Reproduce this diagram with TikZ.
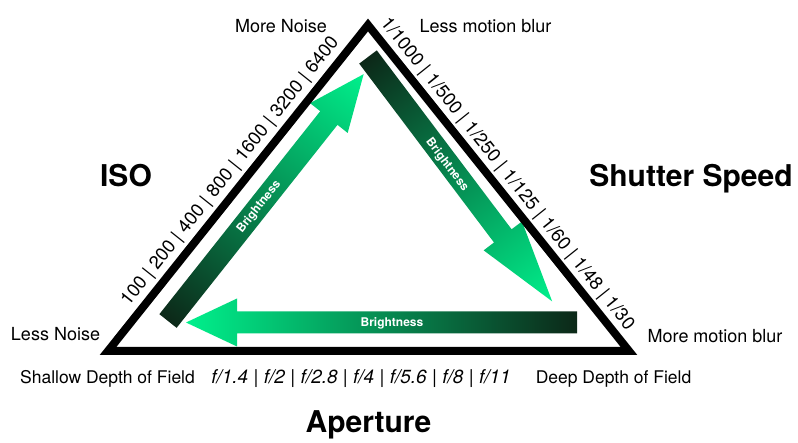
\documentclass[tikz,border=0pt]{standalone}
\usepackage{fontspec}
\setmainfont{TeX Gyre Heros}
\usetikzlibrary{calc}
\definecolor{arrowdark}{RGB}{12,40,24}
\definecolor{arrowbright}{RGB}{0,240,140}

\begin{document}
\begin{tikzpicture}[x=1pt, y=1pt]
      \tikzstyle{side} = [font=\fontsize{18}{21}\selectfont, anchor=base, inner sep=0pt]
      \tikzstyle{stops} = [font=\fontsize{18.5}{21}\selectfont, anchor=base, inner sep=0pt]
      \tikzstyle{title} = [font=\fontsize{30}{34}\selectfont\bfseries, anchor=base, inner sep=0pt]
      \tikzstyle{glow} = [left color=arrowdark, right color=arrowbright]
      \tikzstyle{brightlbl} = [text=white, font=\fontsize{12}{14}\selectfont\bfseries, inner sep=0pt]
      \useasboundingbox[fill=white] (0,0) rectangle (798,442);

      \coordinate (lc) at (108,91);
      \coordinate (rc) at (629,91);
      \coordinate (tc) at (368,417);

      % brightness arrows, tail dark, head bright
      \begin{scope}[transform canvas={shift={(168,121)}, rotate=51.6}]
        \shade[glow] (0,-11) -- (259,-11) -- (259,-24) -- (315,0) -- (259,24) -- (259,11) -- (0,11) -- cycle;
      \end{scope}
      \begin{scope}[transform canvas={shift={(368,385)}, rotate=-53}]
        \shade[glow] (0,-11) -- (224,-11) -- (224,-24) -- (306,0) -- (224,24) -- (224,11) -- (0,11) -- cycle;
      \end{scope}
      \begin{scope}[transform canvas={shift={(577,119.5)}, rotate=180}]
        \shade[glow] (0,-11) -- (340,-11) -- (340,-24) -- (391,0) -- (340,24) -- (340,11) -- (0,11) -- cycle;
      \end{scope}
      \node[brightlbl, rotate=51.6] (isoarrow) at (259,235) {Brightness};
      \node[brightlbl, rotate=-53] (shutterarrow) at (447,277) {Brightness};
      \node[brightlbl] (aperturearrow) at (392,119) {Brightness};

      \draw[line width=8pt, line join=miter] (lc) -- (tc) -- (rc) -- cycle;

      % scales along the sides
      \node[stops, rotate=51.4] (isostops) at (234.1,267.5) {100 | 200 | 400 | 800 | 1600 | 3200 | 6400};
      \node[stops, rotate=-51.3] (shutterstops) at (503.3,264.7) {1/1000 | 1/500 | 1/250 | 1/125 | 1/60 | 1/48 | 1/30};
      \node[stops, font=\fontsize{19}{22}\selectfont] (fstops) at (361,58)
        {\textit{f/1.4} | \textit{f/2} | \textit{f/2.8} | \textit{f/4} | \textit{f/5.6} | \textit{f/8} | \textit{f/11}};

      \node[side] (morenoise) at (281,409) {More Noise};
      \node[side] (lessblur) at (485.5,409) {Less motion blur};
      \node[side] (lessnoise) at (55.5,101) {Less Noise};
      \node[side] (moreblur) at (715,99) {More motion blur};
      \node[side, font=\fontsize{17.5}{20}\selectfont] (shallow) at (107.5,58) {Shallow Depth of Field};
      \node[side, font=\fontsize{17.5}{20}\selectfont] (deep) at (613.5,58) {Deep Depth of Field};

      \node[title] (iso) at (126,255) {ISO};
      \node[title] (shutter) at (691,255) {Shutter Speed};
      \node[title] (aperture) at (368.5,10) {Aperture};
    \end{tikzpicture}
\end{document}
